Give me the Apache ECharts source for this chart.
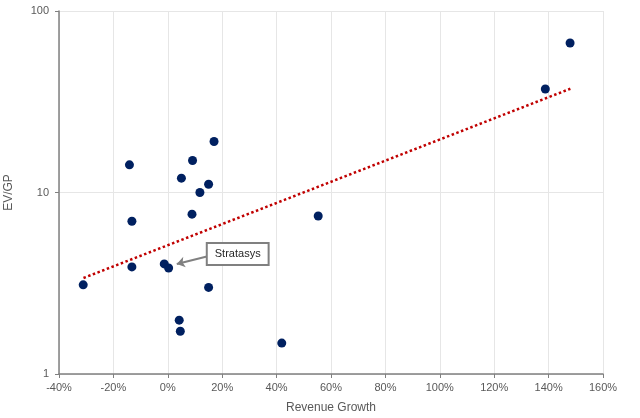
<!DOCTYPE html>
<html>
<head>
<meta charset="utf-8">
<script src="https://cdn.jsdelivr.net/npm/echarts@6/dist/echarts.min.js"></script>
<style>
  html, body { margin: 0; padding: 0; background: #fff; }
  #chart { width: 640px; height: 418px; }
</style>
</head>
<body>
<div id="chart"></div>
<script>
// revenue growth (%) and EV/GP
var growth = [-31.1, -14.1, -13.2, -13.2, -1.3, 0.3, 4.2, 4.6, 5.0, 8.9, 9.1, 11.8, 15.0, 15.0, 17.0, 41.9, 55.3, 138.8, 147.9]
var evgp = [3.1, 14.2, 6.94, 3.89, 4.04, 3.84, 1.98, 1.72, 12.0, 7.6, 15.0, 10.0, 11.1, 3.0, 19.1, 1.48, 7.42, 37.2, 66.6]

// exponential trend line ends (straight on the log axis)
var trendX = [-31, 148]
var trendY = [3.38, 37.3]

// callout for Stratasys
var calloutText = 'Stratasys'
var calloutBox = [25.7, 4.58]
var arrowFrom = [15.1, 4.47]
var arrowTo = [3.3, 4.04]

var xTicks = { min: -40, max: 160, interval: 20 }

var points = growth.map(function (g, i) { return [g, evgp[i]] })
var trend = trendX.map(function (x, i) { return [x, trendY[i]] })

var myChart = echarts.init(document.getElementById('chart'))
var labelFont = 'Liberation Sans, Arial, sans-serif'

var option = {
  animation: false,
  grid: {
    left: 59,
    right: 37,
    top: 11,
    bottom: 44,
    outerBoundsMode: 'none',
    containLabel: false
  },
  xAxis: {
    type: 'value',
    min: xTicks.min,
    max: xTicks.max,
    interval: xTicks.interval,
    name: 'Revenue Growth',
    nameLocation: 'middle',
    nameGap: 28,
    nameTextStyle: { color: '#595959', fontSize: 12, fontFamily: labelFont },
    axisLine: { onZero: false, lineStyle: { color: '#808080', width: 1.5 } },
    axisTick: { show: true, length: 4, lineStyle: { color: '#808080' } },
    axisLabel: {
      color: '#595959', fontSize: 11, fontFamily: labelFont, margin: 8,
      formatter: '{value}%'
    },
    splitLine: { show: true, lineStyle: { color: '#e6e6e6' } }
  },
  yAxis: {
    type: 'log',
    logBase: 10,
    min: 1,
    max: 100,
    name: 'EV/GP',
    nameLocation: 'middle',
    nameGap: 44,
    nameTextStyle: { color: '#595959', fontSize: 12, fontFamily: labelFont },
    axisLine: { show: true, onZero: false, lineStyle: { color: '#808080', width: 1.5 } },
    axisTick: { show: true, length: 4, lineStyle: { color: '#808080' } },
    axisLabel: { color: '#595959', fontSize: 11, fontFamily: labelFont, margin: 10 },
    splitLine: { show: true, lineStyle: { color: '#e6e6e6' } },
    minorTick: { show: false },
    minorSplitLine: { show: false }
  },
  series: [
    {
      name: 'trend',
      type: 'line',
      data: trend,
      showSymbol: false,
      symbol: 'none',
      z: 1,
      lineStyle: { color: '#C00000', width: 2.5, type: [2.5, 2.5] },
      markLine: {
        silent: true,
        symbol: ['none', 'arrow'],
        symbolSize: 8,
        label: { show: false },
        lineStyle: { color: '#808080', width: 2, type: 'solid' },
        data: [[{ coord: arrowFrom }, { coord: arrowTo }]]
      },
      markPoint: {
        silent: true,
        symbol: 'rect',
        symbolSize: [1, 1],
        itemStyle: { color: 'rgba(0,0,0,0)' },
        label: {
          show: true,
          formatter: calloutText,
          color: '#262626',
          fontSize: 11,
          fontFamily: labelFont,
          backgroundColor: '#fff',
          borderColor: '#808080',
          borderWidth: 2,
          padding: [5, 7, 4, 7]
        },
        data: [{ coord: calloutBox }]
      }
    },
    {
      name: 'companies',
      type: 'scatter',
      data: points,
      symbolSize: 9,
      z: 3,
      itemStyle: { color: '#002060', opacity: 1 }
    }
  ]
}

option && myChart.setOption(option)
</script>
</body>
</html>
